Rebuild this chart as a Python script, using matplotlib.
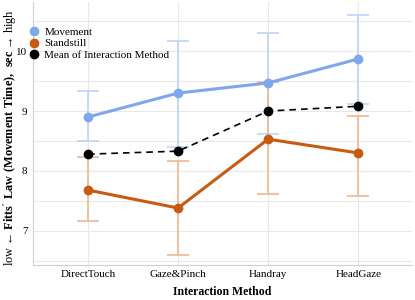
import matplotlib as mpl
mpl.use('Agg')
import matplotlib.pyplot as plt
import numpy as np

methods = ['DirectTouch', 'Gaze&Pinch', 'Handray', 'HeadGaze']

movement = [8.90, 9.30, 9.47, 9.87]
movement_lo = [8.50, 8.40, 8.62, 9.12]
movement_hi = [9.33, 10.17, 10.30, 10.60]

standstill = [7.68, 7.38, 8.53, 8.30]
standstill_lo = [7.17, 6.60, 7.62, 7.58]
standstill_hi = [8.24, 8.17, 9.48, 8.92]

mean_method = [8.28, 8.33, 9.00, 9.08]

plt.rcParams['font.family'] = ['Liberation Serif', 'DejaVu Serif']
plt.rcParams['mathtext.fontset'] = 'custom'
plt.rcParams['mathtext.rm'] = 'Liberation Serif'
plt.rcParams['mathtext.bf'] = 'Liberation Serif:bold'

blue = '#7fa8ec'
blue_err = '#bfd4f6'
orange = '#c75b12'
orange_err = '#f0b890'
grid_c = '#e8e8e8'

fig = plt.figure(figsize=(4.15, 3.0), dpi=100)
ax = fig.add_axes([0.0795, 0.117, 0.914, 0.876])

x = np.arange(len(methods))

def yerr(v, lo, hi):
    v = np.array(v); return [v - np.array(lo), np.array(hi) - v]

ax.errorbar(x, movement, yerr=yerr(movement, movement_lo, movement_hi), fmt='none',
            ecolor=blue_err, elinewidth=1.2, capsize=8, capthick=1.2, zorder=2)
ax.errorbar(x, standstill, yerr=yerr(standstill, standstill_lo, standstill_hi), fmt='none',
            ecolor=orange_err, elinewidth=1.2, capsize=8, capthick=1.2, zorder=2)

ax.plot(x, movement, color=blue, lw=2.2, marker='o', ms=6, label='Movement', zorder=3)
ax.plot(x, standstill, color=orange, lw=2.2, marker='o', ms=6, label='Standstill', zorder=3)
ax.plot(x, mean_method, color='black', lw=1.2, ls=(0, (4, 3)), marker='o', ms=6,
        label='Mean of Interaction Method', zorder=4)

ax.set_xlim(-0.61, 3.6)
ax.set_ylim(6.43, 10.82)
ax.set_xticks(x)
ax.set_xticklabels(methods, fontsize=8)
ax.set_yticks([7, 8, 9, 10])
ax.set_yticks(np.arange(6.5, 10.75, 0.5), minor=True)
ax.tick_params(axis='both', which='both', length=0, labelsize=8, pad=4)
ax.grid(True, which='both', axis='y', color=grid_c, lw=0.8)
ax.grid(True, which='major', axis='x', color=grid_c, lw=0.8)
ax.set_axisbelow(True)
for s in ['top', 'right']:
    ax.spines[s].set_visible(False)
for s in ['left', 'bottom']:
    ax.spines[s].set_color('#d0d0d0')
    ax.spines[s].set_linewidth(0.8)

ax.set_xlabel('Interaction Method', fontsize=8.5, fontweight='bold', labelpad=5)
# y label as figure text so it stays inside the canvas
fig.text(0.004, 0.54, r"low ← $\mathbf{Fitts'\ Law\ (Movement\ Time),\ sec}$ → high",
         rotation=90, ha='left', va='center', fontsize=8.8)

leg = ax.legend(loc='upper left', bbox_to_anchor=(-0.02, 0.92), frameon=False, fontsize=8,
                handlelength=0.8, handletextpad=0.5, labelspacing=0.12, borderaxespad=0)
for h in leg.legend_handles:
    h.set_linestyle('none')

fig.savefig('out.png', dpi=100)
